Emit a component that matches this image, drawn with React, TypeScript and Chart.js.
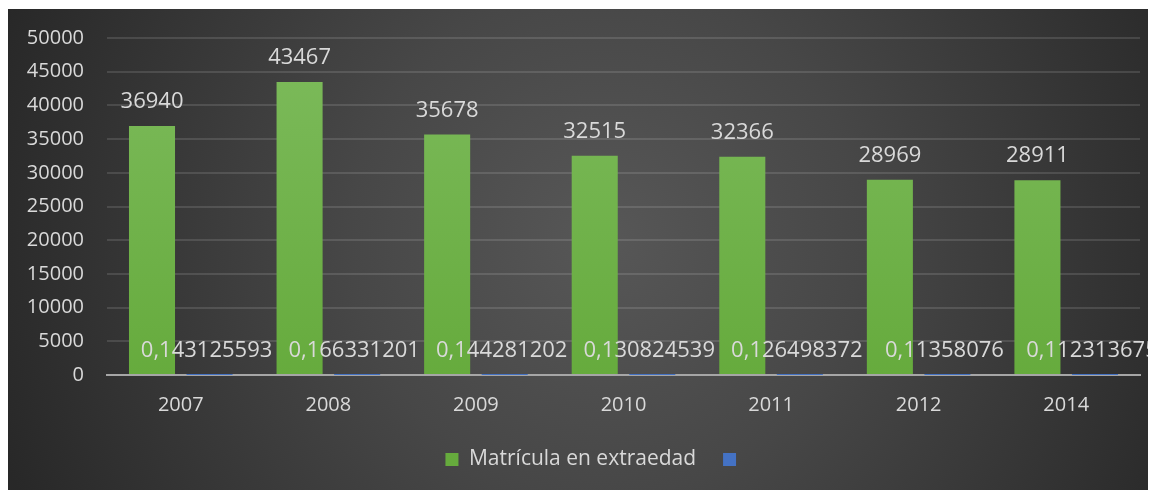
import React, { useEffect, useRef } from "react";
import { Chart, registerables } from "chart.js";

Chart.register(...registerables);

const categories = ["2007", "2008", "2009", "2010", "2011", "2012", "2014"];
const matricula = [36940, 43467, 35678, 32515, 32366, 28969, 28911];
const ratio = [0.143125593, 0.166331201, 0.144281202, 0.130824539, 0.126498372, 0.11358076, 0.112313675];
const seriesNames = ["Matrícula en extraedad", ""];
const yTicks = [0, 5000, 10000, 15000, 20000, 25000, 30000, 35000, 40000, 45000, 50000];

const FONT = "'Open Sans', 'Noto Sans', sans-serif";
const TEXT = "#d9d9d9";

const bgPlugin = {
  id: "bgPlugin",
  beforeDraw(chart: any) {
    const { ctx, width, height } = chart;
    ctx.save();
    const g = ctx.createRadialGradient(600, 230, 0, 600, 230, 640);
    g.addColorStop(0, "#575757");
    g.addColorStop(0.4, "#474747");
    g.addColorStop(1, "#282828");
    ctx.fillStyle = g;
    ctx.fillRect(0, 0, width, height);
    ctx.restore();
  },
};

const legendShift = {
  id: "legendShift",
  afterLayout(chart: any) {
    const l = chart.legend;
    if (l) {
      l.left += 23;
      l.right += 23;
    }
  },
};

const labelPlugin = {
  id: "labelPlugin",
  afterDatasetsDraw(chart: any) {
    const { ctx } = chart;
    ctx.save();
    ctx.font = `22px ${FONT}`;
    ctx.fillStyle = TEXT;
    ctx.textAlign = "center";
    ctx.textBaseline = "alphabetic";
    chart.data.datasets.forEach((ds: any, i: number) => {
      const meta = chart.getDatasetMeta(i);
      meta.data.forEach((bar: any, j: number) => {
        const v = ds.data[j];
        const txt = String(v).replace(".", ",");
        ctx.fillText(txt, bar.x - (i === 1 ? 3 : 0), bar.y - 18);
      });
    });
    ctx.restore();
  },
};

export default function App() {
  const ref = useRef<HTMLCanvasElement | null>(null);

  useEffect(() => {
    if (!ref.current) return;
    const chart = new Chart(ref.current, {
      type: "bar",
      data: {
        labels: categories,
        datasets: [
          {
            label: seriesNames[0],
            data: matricula,
            backgroundColor: (c: any) => {
              const { chart } = c;
              const area = chart.chartArea;
              if (!area) return "#70ad47";
              const g = chart.ctx.createLinearGradient(0, area.top, 0, area.bottom);
              g.addColorStop(0, "#7dbb5c");
              g.addColorStop(1, "#66ab3d");
              return g;
            },
            barPercentage: 0.8,
            categoryPercentage: 0.78,
          },
          {
            label: seriesNames[1],
            data: ratio,
            backgroundColor: "#4472c4",
            barPercentage: 0.8,
            categoryPercentage: 0.78,
          },
        ],
      },
      options: {
        animation: false,
        responsive: true,
        maintainAspectRatio: false,
        layout: { padding: { left: 0, right: 16, top: 29, bottom: 10 } },
        plugins: {
          tooltip: { enabled: false },
          legend: {
            position: "bottom",
            labels: {
              color: TEXT,
              font: { family: FONT, size: 21 },
              boxWidth: 13,
              boxHeight: 13,
              padding: 27,
            },
          },
        },
        scales: {
          x: {
            grid: { display: false, drawTicks: false },
            border: { display: true, color: "#a6a6a6", width: 2 },
            ticks: { color: TEXT, font: { family: FONT, size: 20 }, padding: 18 },
            afterFit: (s: any) => {
              s.height = 47;
              s.paddingLeft = 0;
              s.paddingRight = 0;
            },
          },
          y: {
            min: 0,
            max: 50000,
            afterBuildTicks: (s: any) => {
              s.ticks = yTicks.map((v) => ({ value: v }));
            },
            grid: {
              color: "rgba(255,255,255,0.12)",
              lineWidth: 2,
              drawTicks: false,
            },
            border: { display: false },
            ticks: {
              color: TEXT,
              font: { family: FONT, size: 20 },
              padding: 23,
              callback: (v: any) => String(v),
            },
            afterFit: (s: any) => {
              s.width = 101;
              s.paddingTop = 0;
              s.paddingBottom = 0;
            },
          },
        },
      },
      plugins: [bgPlugin, legendShift, labelPlugin],
    } as any);
    return () => chart.destroy();
  }, []);

  return (
    <div style={{ marginLeft: -2, marginTop: 1, width: 1150, height: 481, position: "relative" }}>
      <canvas ref={ref} />
    </div>
  );
}
